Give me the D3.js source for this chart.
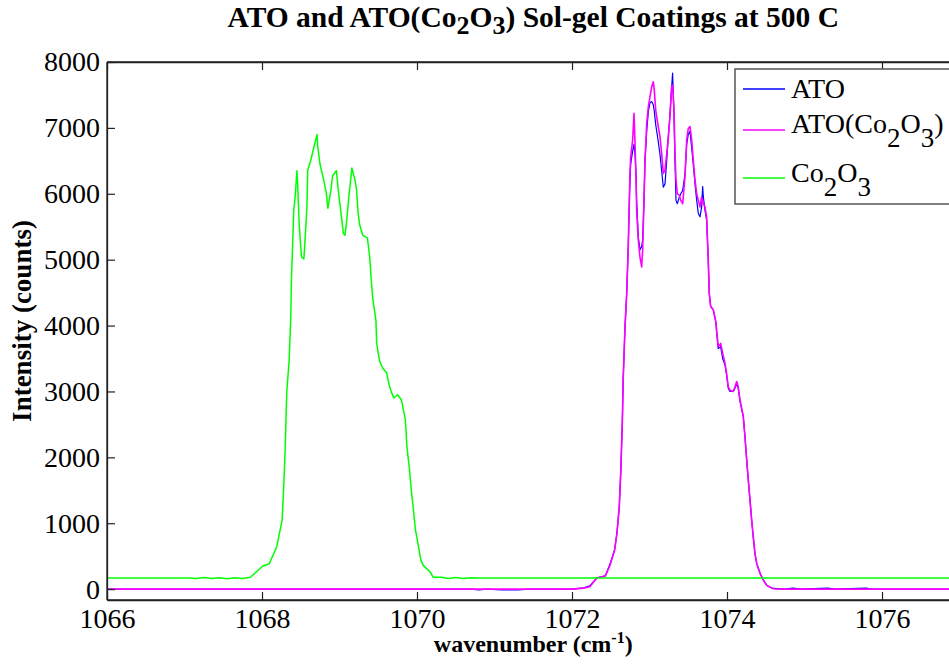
<!DOCTYPE html>
<html><head><meta charset="utf-8">
<script src="https://cdn.jsdelivr.net/npm/d3@7"></script>
<style>body{margin:0;background:#fff}svg{display:block}</style>
</head><body>
<svg id="c" width="949" height="667"></svg>
<script>
// ---- data ----
const wnATO = [1066,1070.7,1070.8,1070.9,1071.1,1071.3,1071.45,1072.0,1072.15,1072.23,
1072.32,1072.43,1072.49,1072.55,1072.58,1072.61,1072.63,1072.65,1072.66,1072.684,
1072.706,1072.726,1072.74,1072.748,1072.757,1072.783,1072.80,1072.813,1072.826,1072.834,
1072.855,1072.877,1072.899,1072.912,1072.929,1072.942,1072.964,1072.985,1073.006,1073.028,
1073.049,1073.062,1073.08,1073.106,1073.135,1073.157,1073.178,1073.2,1073.222,1073.241,
1073.264,1073.285,1073.298,1073.316,1073.329,1073.342,1073.359,1073.385,1073.403,1073.428,
1073.458,1073.48,1073.5,1073.523,1073.544,1073.565,1073.587,1073.609,1073.63,1073.652,
1073.673,1073.686,1073.694,1073.716,1073.737,1073.758,1073.771,1073.789,1073.823,1073.858,
1073.866,1073.887,1073.918,1073.944,1073.974,1073.995,1074.016,1074.037,1074.08,1074.103,
1074.125,1074.145,1074.168,1074.21,1074.232,1074.254,1074.275,1074.297,1074.318,1074.339,
1074.361,1074.383,1074.426,1074.468,1074.511,1074.555,1074.6,1074.75,1074.85,1074.95,
1075.3,1075.4,1075.8,1075.85,1077];
const ato = [0,0,-12,0,-12,-12,0,0,20,50,
170,200,380,600,850,1250,1800,2560,3170,3980,
4490,5200,5900,6200,6450,6650,6750,6600,6300,5900,
5350,5150,5200,5300,5900,6510,6950,7250,7380,7400,
7350,7250,7050,6850,6600,6350,6100,6150,6500,6850,
7200,7600,7830,7200,6500,5900,5850,5950,6000,6050,
6300,6750,6900,6950,6700,6450,6150,5900,5700,5650,
5800,6110,5960,5750,5600,5000,4490,4290,4240,4040,
3900,3650,3680,3500,3400,3250,3050,3000,3000,3050,
3120,3050,2850,2620,2310,1960,1650,1350,1050,790,
540,390,240,140,60,30,10,0,15,0,
15,0,15,0,0];
const atoCo = [0,0,0,0,0,0,0,0,15,35,
170,200,360,590,850,1250,1800,2560,3170,3980,
4490,5200,5900,6310,6560,6820,7220,6770,6260,5750,
5300,5040,4890,5150,5900,6510,7070,7320,7470,7620,
7700,7570,7270,7070,6870,6610,6310,6360,6610,6820,
7170,7620,7650,7270,6610,6210,6000,5980,5900,5850,
6260,6820,6990,7020,6820,6510,6210,6000,5900,5800,
5950,5900,5850,5800,5650,5000,4490,4290,4240,4040,
3930,3680,3730,3580,3430,3270,3070,3020,3000,3070,
3150,3070,2870,2620,2310,1960,1650,1350,1050,790,
540,390,240,140,60,30,5,0,0,0,
0,0,0,0,0];
const wnCo = [1066,1067.05,1067.15,1067.25,1067.35,1067.45,1067.55,1067.65,1067.75,1067.85,
1068.01,1068.09,1068.19,1068.26,1068.28,1068.30,1068.31,1068.32,1068.35,1068.37,
1068.38,1068.40,1068.41,1068.43,1068.45,1068.46,1068.48,1068.50,1068.51,1068.54,
1068.55,1068.58,1068.59,1068.63,1068.66,1068.71,1068.72,1068.75,1068.79,1068.83,
1068.85,1068.89,1068.91,1068.96,1068.98,1069.01,1069.05,1069.07,1069.09,1069.12,
1069.16,1069.20,1069.22,1069.24,1069.26,1069.30,1069.36,1069.39,1069.41,1069.43,
1069.47,1069.48,1069.50,1069.52,1069.56,1069.61,1069.64,1069.67,1069.70,1069.75,
1069.80,1069.85,1069.87,1069.90,1069.93,1069.95,1069.98,1070.02,1070.05,1070.08,
1070.17,1070.21,1070.32,1070.4,1070.5,1070.6,1070.7,1070.8,1077];
const co = [170,170,160,175,160,172,158,172,162,180,
350,380,640,1050,1550,2150,2600,3000,3470,4080,
4700,5400,5750,5980,6350,6160,5530,5190,5040,5010,
5190,5800,6360,6510,6660,6900,6710,6440,6240,6010,
5780,6060,6270,6350,6100,5800,5400,5370,5550,5950,
6390,6210,6060,5710,5530,5370,5330,5040,4690,4400,
4080,3730,3580,3450,3350,3280,3100,2990,2900,2950,
2870,2570,2160,1850,1460,1250,900,640,440,360,
260,180,180,160,178,160,172,170,170];
const xTicks = [1066,1068,1070,1072,1074,1076];
const yTicks = [0,1000,2000,3000,4000,5000,6000,7000,8000];
const seriesLabels = [["ATO"],["ATO(Co","2","O","3",")"],["Co","2","O","3"]];
const seriesColors = ["#0000ff","#ff00ff","#00ff00"];

// ---- chart ----
const svg = d3.select("#c");
const L = 107, T = 62, B = 600, R = 959.5;
const x = d3.scaleLinear().domain([1066, 1077]).range([L, R]);
const y = d3.scaleLinear().domain([-165, 8000]).range([B, T]);
const serif = "'Liberation Serif','Times New Roman',serif";

svg.append("defs").append("clipPath").attr("id","clip")
  .append("rect").attr("x",L).attr("y",T).attr("width",R-L).attr("height",B-T);

const line = d3.line().x(d => x(d[0])).y(d => y(d[1]));
const series = [
  wnATO.map((w,i) => [w, ato[i]]),
  wnATO.map((w,i) => [w, atoCo[i]]),
  wnCo.map((w,i) => [w, co[i]])
];
const widths = [1.2, 1.6, 1.5];
const g = svg.append("g").attr("clip-path","url(#clip)");
series.forEach((s,i) => {
  g.append("path").datum(s).attr("d", line)
    .attr("fill","none").attr("stroke", seriesColors[i])
    .attr("stroke-width", widths[i]).attr("stroke-linejoin","round");
});

// axes
function styleAxis(sel){
  sel.selectAll(".domain").attr("stroke","#222").attr("stroke-width",1.3);
  sel.selectAll(".tick line").attr("stroke","#222").attr("stroke-width",1.2);
  sel.selectAll("text").attr("font-family",serif).attr("font-size",28).attr("fill","#000");
}
const xb = svg.append("g").attr("transform",`translate(0,${B})`)
  .call(d3.axisBottom(x).tickValues(xTicks).tickSizeInner(-8).tickSizeOuter(0).tickPadding(8).tickFormat(d3.format("d")));
styleAxis(xb);
xb.selectAll("text").attr("dy","0.71em");
const xt = svg.append("g").attr("transform",`translate(0,${T})`)
  .call(d3.axisTop(x).tickValues(xTicks).tickSizeInner(-8).tickSizeOuter(0).tickFormat(""));
styleAxis(xt);
const yl = svg.append("g").attr("transform",`translate(${L},0)`)
  .call(d3.axisLeft(y).tickValues(yTicks).tickSizeInner(-8).tickSizeOuter(0).tickPadding(7).tickFormat(d3.format("d")));
styleAxis(yl);
svg.append("line").attr("x1",L).attr("x2",L).attr("y1",T).attr("y2",B).attr("stroke","#222").attr("stroke-width",1.3);
svg.append("line").attr("x1",L).attr("x2",R).attr("y1",B).attr("y2",B).attr("stroke","#222").attr("stroke-width",1.3);
svg.append("line").attr("x1",L).attr("x2",R).attr("y1",T).attr("y2",T).attr("stroke","#222").attr("stroke-width",1.3);

// title
const title = svg.append("text").attr("x",(L+R)/2).attr("y",27).attr("text-anchor","middle")
  .attr("font-family",serif).attr("font-weight","bold").attr("font-size",29.5);
title.append("tspan").text("ATO and ATO(Co");
title.append("tspan").attr("dy",7).attr("font-size",26).text("2");
title.append("tspan").attr("dy",-7).text("O");
title.append("tspan").attr("dy",7).attr("font-size",26).text("3");
title.append("tspan").attr("dy",-7).text(") Sol-gel Coatings at 500 C");

// x label
const xlab = svg.append("text").attr("x",(L+R)/2).attr("y",652).attr("text-anchor","middle")
  .attr("font-family",serif).attr("font-weight","bold").attr("font-size",24);
xlab.append("tspan").text("wavenumber (cm");
xlab.append("tspan").attr("dy",-9).attr("font-size",16).text("-1");
xlab.append("tspan").attr("dy",9).text(")");

// y label
svg.append("text").attr("transform",`translate(31,${(T+B)/2 - 10}) rotate(-90)`)
  .attr("text-anchor","middle").attr("font-family",serif).attr("font-weight","bold").attr("font-size",27)
  .text("Intensity (counts)");

// legend
const lg = svg.append("g");
lg.append("rect").attr("x",735).attr("y",69).attr("width",240).attr("height",135)
  .attr("fill","#fff").attr("stroke","#555").attr("stroke-width",1.5);
const rowY = [89, 130, 178];
const textY = [98, 133, 182];
seriesLabels.forEach((parts,i) => {
  lg.append("line").attr("x1",743).attr("x2",785).attr("y1",rowY[i]).attr("y2",rowY[i])
    .attr("stroke",seriesColors[i]).attr("stroke-width",1.5);
  const t = lg.append("text").attr("x",791).attr("y",textY[i])
    .attr("font-family",serif).attr("font-size",28);
  let sub = false;
  parts.forEach((p,j) => {
    const isSub = /^[0-9]$/.test(p);
    const ts = t.append("tspan").text(p);
    if (isSub && !sub) { ts.attr("dy",14).attr("font-size",27); sub = true; }
    else if (isSub) { ts.attr("font-size",27); }
    else if (!isSub && sub) { ts.attr("dy",-14); sub = false; }
  });
});
</script>
</body></html>
